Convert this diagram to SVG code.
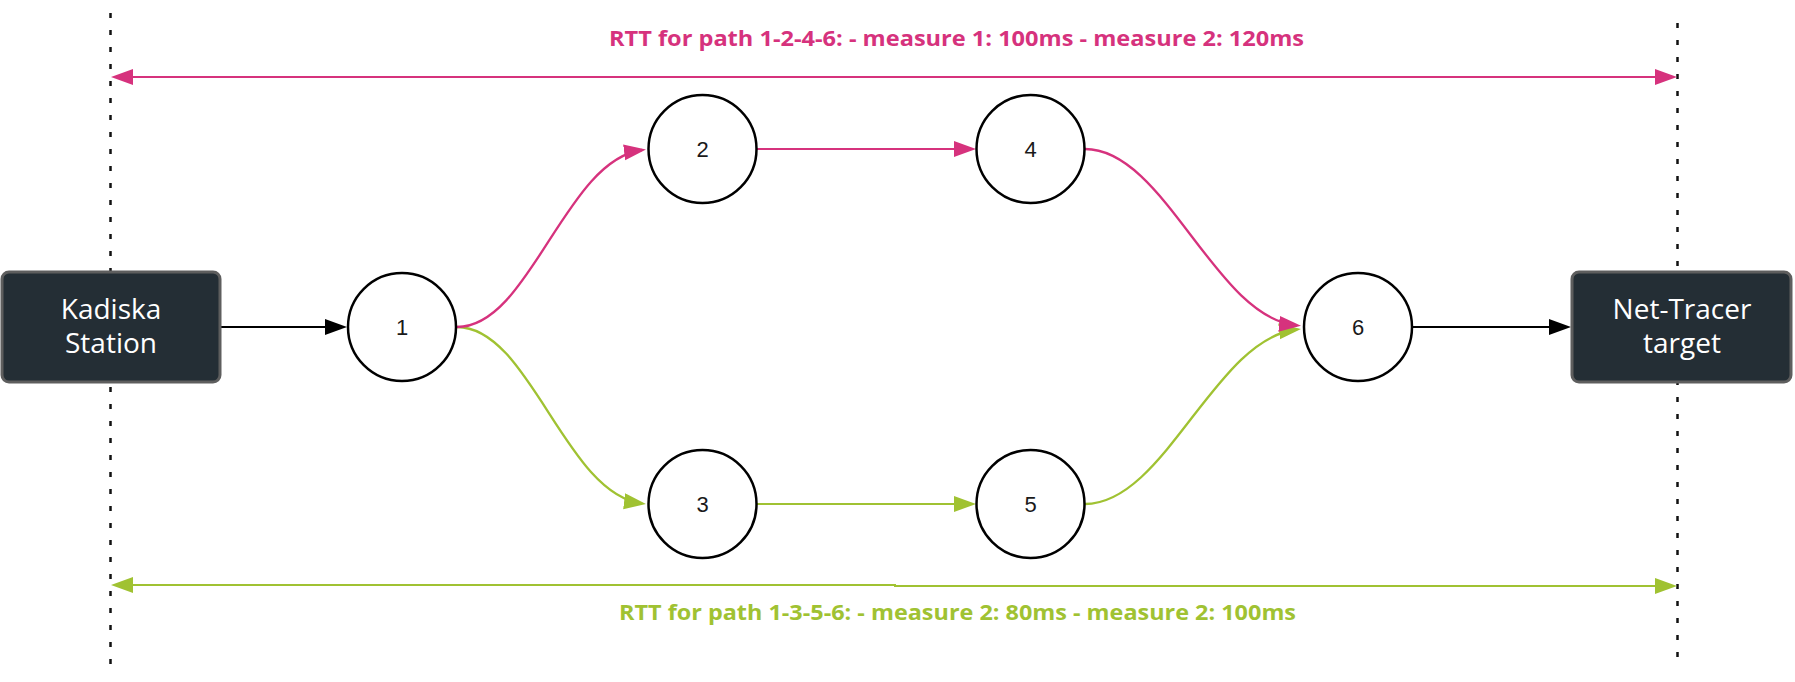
<svg xmlns="http://www.w3.org/2000/svg" width="1795" height="682" viewBox="0 0 1795 682">
  <style>
    .guide { stroke: #111; stroke-width: 2.5; stroke-dasharray: 5 12; fill: none; }
    .edge { fill: none; stroke-width: 2; }
    .curve { stroke-width: 2.3; }
    .black { stroke: #000; }
    .pink { stroke: #d6327d; }
    .green { stroke: #a0c232; }
    .circ { fill: #fff; stroke: #000; stroke-width: 2.5; }
    .num { font-family: "Liberation Sans", Arial, sans-serif; font-size: 22px; fill: #1a1a1a; text-anchor: middle; }
    .box { fill: #242e35; stroke: #5e5e5e; stroke-width: 3; }
    .boxtxt { font-family: "Open Sans", "Noto Sans", sans-serif; font-size: 28px; fill: #ffffff; text-anchor: middle; }
    .rtt { font-family: "Open Sans", "Noto Sans", sans-serif; font-size: 21px; font-weight: 700; }
  </style>
  <defs>
    <marker id="ah-black" markerUnits="userSpaceOnUse" markerWidth="24" markerHeight="18" refX="18" refY="8" orient="auto-start-reverse">
      <path d="M0,0 L22,8 L0,16 z" fill="#000"/>
    </marker>
    <marker id="ah-pink" markerUnits="userSpaceOnUse" markerWidth="24" markerHeight="18" refX="18" refY="8" orient="auto-start-reverse">
      <path d="M0,0 L22,8 L0,16 z" fill="#d6327d"/>
    </marker>
    <marker id="ah-green" markerUnits="userSpaceOnUse" markerWidth="24" markerHeight="18" refX="18" refY="8" orient="auto-start-reverse">
      <path d="M0,0 L22,8 L0,16 z" fill="#a0c232"/>
    </marker>
  </defs>
  <rect x="0" y="0" width="1795" height="682" fill="#ffffff"/>

  <g id="guides">
    <line class="guide" x1="110.5" y1="13" x2="110.5" y2="668"/>
    <line class="guide" x1="1677.5" y1="23" x2="1677.5" y2="668"/>
  </g>

  <g id="connectors">
    <path class="edge pink" d="M115,77 H1673" marker-start="url(#ah-pink)" marker-end="url(#ah-pink)"/>
    <path class="edge green" d="M115,585 H895 V586 H1673" marker-start="url(#ah-green)" marker-end="url(#ah-green)"/>
    <path class="edge black" d="M221,327 H343" marker-end="url(#ah-black)"/>
    <path class="edge black" d="M1413,327 H1567" marker-end="url(#ah-black)"/>
    <path class="edge curve green" d="M457,327 C530,327 565,494 642,503.5" marker-end="url(#ah-green)"/>
    <path class="edge curve pink" d="M457,327 C530,327 565,160 642,150" marker-end="url(#ah-pink)"/>
    <path class="edge pink" d="M757,149 H972" marker-end="url(#ah-pink)"/>
    <path class="edge green" d="M757,504 H972" marker-end="url(#ah-green)"/>
    <path class="edge curve green" d="M1085,504 C1165,504 1215,338 1297,329.5" marker-end="url(#ah-green)"/>
    <path class="edge curve pink" d="M1085,149 C1165,149 1215,318 1297,325.5" marker-end="url(#ah-pink)"/>
  </g>

  <g id="label-rtt-1246">
    <text class="rtt" x="609" y="46" fill="#d6327d" textLength="695" lengthAdjust="spacingAndGlyphs">RTT for path 1-2-4-6: - measure 1: 100ms - measure 2: 120ms</text>
  </g>
  <g id="label-rtt-1356">
    <text class="rtt" x="619" y="620" fill="#a0c232" textLength="677" lengthAdjust="spacingAndGlyphs">RTT for path 1-3-5-6: - measure 2: 80ms - measure 2: 100ms</text>
  </g>

  <g id="node-kadiska">
    <rect class="box" x="2" y="272" width="218" height="110" rx="7"/>
    <text class="boxtxt"><tspan x="111" y="319">Kadiska</tspan><tspan x="111" y="353">Station</tspan></text>
  </g>
  <g id="node-nettracer">
    <rect class="box" x="1572" y="272" width="219" height="110" rx="7"/>
    <text class="boxtxt"><tspan x="1682" y="319">Net-Tracer</tspan><tspan x="1682" y="353">target</tspan></text>
  </g>

  <g id="node-1">
    <circle class="circ" cx="402" cy="327" r="54"/>
    <text class="num" x="402" y="335">1</text>
  </g>
  <g id="node-2">
    <circle class="circ" cx="702.5" cy="149" r="54"/>
    <text class="num" x="702.5" y="157">2</text>
  </g>
  <g id="node-3">
    <circle class="circ" cx="702.5" cy="504" r="54"/>
    <text class="num" x="702.5" y="512">3</text>
  </g>
  <g id="node-4">
    <circle class="circ" cx="1030.5" cy="149" r="54"/>
    <text class="num" x="1030.5" y="157">4</text>
  </g>
  <g id="node-5">
    <circle class="circ" cx="1030.5" cy="504" r="54"/>
    <text class="num" x="1030.5" y="512">5</text>
  </g>
  <g id="node-6">
    <circle class="circ" cx="1358" cy="327" r="54"/>
    <text class="num" x="1358" y="335">6</text>
  </g>
</svg>
